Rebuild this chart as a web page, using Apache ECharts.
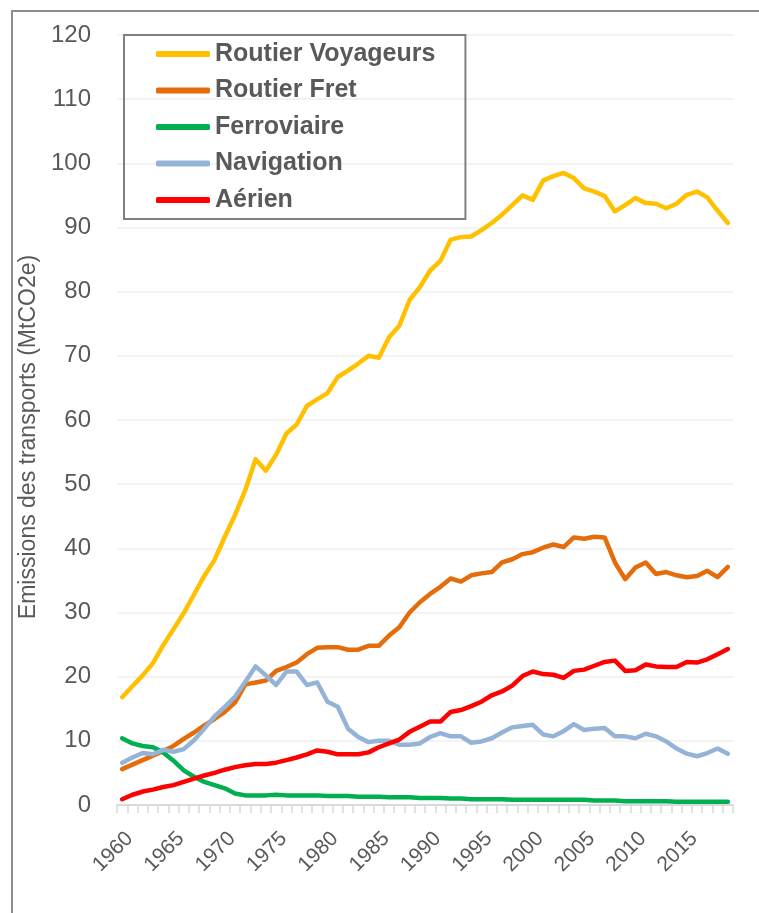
<!DOCTYPE html>
<html>
<head>
<meta charset="utf-8">
<script src="https://cdn.jsdelivr.net/npm/echarts@6/dist/echarts.min.js"></script>
<style>
  html, body { margin: 0; padding: 0; background: #fff; }
  #chart { width: 759px; height: 913px; }
</style>
</head>
<body>
<div id="chart"></div>
<script>
// years 1960 - 2019
const years = []
for (let y = 1960; y <= 2019; y++) years.push(String(y))

const routierVoyageurs = [
  16.8, 18.5, 20.2, 22.1, 24.9, 27.4, 29.9, 32.8, 35.7, 38.2,
  41.8, 45.2, 49.1, 53.9, 52.1, 54.6, 57.9, 59.3, 62.2, 63.2,
  64.2, 66.7, 67.7, 68.8, 70.0, 69.7, 72.9, 74.7, 78.7, 80.7,
  83.3, 84.8, 88.1, 88.5, 88.6, 89.6, 90.7, 92.0, 93.5, 95.0,
  94.3, 97.3, 98.0, 98.5, 97.7, 96.1, 95.6, 94.9, 92.5, 93.5,
  94.6, 93.8, 93.7, 93.0, 93.7, 95.1, 95.6, 94.7, 92.6, 90.7
]
const routierFret = [
  5.6, 6.3, 7.0, 7.7, 8.4, 9.2, 10.3, 11.3, 12.4, 13.4,
  14.5, 16.0, 18.8, 19.1, 19.4, 20.9, 21.5, 22.2, 23.5, 24.5,
  24.6, 24.6, 24.2, 24.2, 24.8, 24.8, 26.4, 27.7, 30.0, 31.6,
  32.9, 34.0, 35.3, 34.8, 35.8, 36.1, 36.3, 37.8, 38.3, 39.1,
  39.4, 40.1, 40.6, 40.2, 41.7, 41.5, 41.8, 41.7, 37.8, 35.2,
  37.0, 37.8, 36.0, 36.3, 35.8, 35.5, 35.7, 36.5, 35.5, 37.1
]
const ferroviaire = [
  10.4, 9.6, 9.2, 9.0, 8.2, 6.9, 5.4, 4.4, 3.6, 3.1,
  2.6, 1.8, 1.5, 1.5, 1.5, 1.6, 1.5, 1.5, 1.5, 1.5,
  1.4, 1.4, 1.4, 1.3, 1.3, 1.3, 1.2, 1.2, 1.2, 1.1,
  1.1, 1.1, 1.0, 1.0, 0.9, 0.9, 0.9, 0.9, 0.8, 0.8,
  0.8, 0.8, 0.8, 0.8, 0.8, 0.8, 0.7, 0.7, 0.7, 0.6,
  0.6, 0.6, 0.6, 0.6, 0.5, 0.5, 0.5, 0.5, 0.5, 0.5
]
const navigation = [
  6.6, 7.4, 8.1, 7.9, 8.6, 8.3, 8.7, 10.1, 11.9, 13.8,
  15.3, 16.9, 19.2, 21.6, 20.2, 18.7, 20.8, 20.8, 18.7, 19.1,
  16.1, 15.3, 11.9, 10.6, 9.8, 10.0, 10.0, 9.4, 9.4, 9.6,
  10.6, 11.2, 10.7, 10.7, 9.7, 9.9, 10.4, 11.3, 12.1, 12.3,
  12.5, 11.0, 10.7, 11.5, 12.6, 11.7, 11.9, 12.0, 10.7, 10.7,
  10.4, 11.1, 10.7, 9.9, 8.8, 8.0, 7.6, 8.1, 8.8, 8.0
]
const aerien = [
  0.9, 1.6, 2.1, 2.4, 2.8, 3.1, 3.6, 4.1, 4.6, 5.0,
  5.5, 5.9, 6.2, 6.4, 6.4, 6.6, 7.0, 7.4, 7.9, 8.5,
  8.3, 7.9, 7.9, 7.9, 8.2, 9.0, 9.6, 10.2, 11.4, 12.2,
  13.0, 13.0, 14.5, 14.8, 15.4, 16.1, 17.1, 17.7, 18.6, 20.1,
  20.8, 20.4, 20.3, 19.8, 20.9, 21.1, 21.7, 22.3, 22.5, 20.9,
  21.0, 21.9, 21.6, 21.5, 21.5, 22.3, 22.2, 22.7, 23.5, 24.3
]

const textColor = '#595959'
const font = 'Liberation Sans, Arial, sans-serif'

const makeLine = (name, data, color) => ({
  name,
  type: 'line',
  data,
  showSymbol: false,
  symbol: 'none',
  lineStyle: { width: 4.5, color, cap: 'round', join: 'round' },
  itemStyle: { color }
})

const chart = echarts.init(document.getElementById('chart'))
chart.setOption({
  animation: false,
  textStyle: { fontFamily: font },
  graphic: [{
    type: 'rect',
    shape: { x: 12, y: 11, width: 800, height: 1000 },
    style: { fill: 'none', stroke: '#8c8c8c', lineWidth: 2 },
    silent: true
  }],
  legend: {
    orient: 'vertical',
    left: 124,
    top: 35,
    padding: [6, 30, 6, 32],
    itemGap: 10.5,
    itemWidth: 54,
    itemHeight: 6,
    icon: 'roundRect',
    borderColor: '#808080',
    borderWidth: 2,
    textStyle: { fontSize: 25, fontWeight: 'bold', color: textColor, lineHeight: 26, fontFamily: font }
  },
  grid: { left: 117, right: 26, top: 35, bottom: 108, containLabel: false },
  xAxis: {
    type: 'category',
    data: years,
    boundaryGap: true,
    axisLine: { lineStyle: { color: '#d9d9d9', width: 2 } },
    axisTick: { show: true, interval: 0, length: 8, lineStyle: { color: '#d9d9d9', width: 1.5 } },
    axisLabel: {
      interval: 4, rotate: 45, fontSize: 21, color: textColor, margin: 23,
      verticalAlign: 'top', fontFamily: font
    }
  },
  yAxis: {
    type: 'value',
    min: 0,
    max: 120,
    interval: 10,
    name: 'Emissions des transports (MtCO2e)',
    nameLocation: 'middle',
    nameGap: 66,
    nameTextStyle: { fontSize: 23, color: textColor, fontFamily: font, padding: [0, 34, 0, 0] },
    axisLine: { show: false },
    axisTick: { show: false },
    axisLabel: { fontSize: 24, color: textColor, margin: 26, fontFamily: font },
    splitLine: { lineStyle: { color: '#efefef', width: 1.5 } }
  },
  series: [
    makeLine('Routier Voyageurs', routierVoyageurs, '#FFC000'),
    makeLine('Routier Fret', routierFret, '#E46C0A'),
    makeLine('Ferroviaire', ferroviaire, '#00B050'),
    makeLine('Navigation', navigation, '#95B3D7'),
    makeLine('Aérien', aerien, '#FF0000')
  ]
})
</script>
</body>
</html>
